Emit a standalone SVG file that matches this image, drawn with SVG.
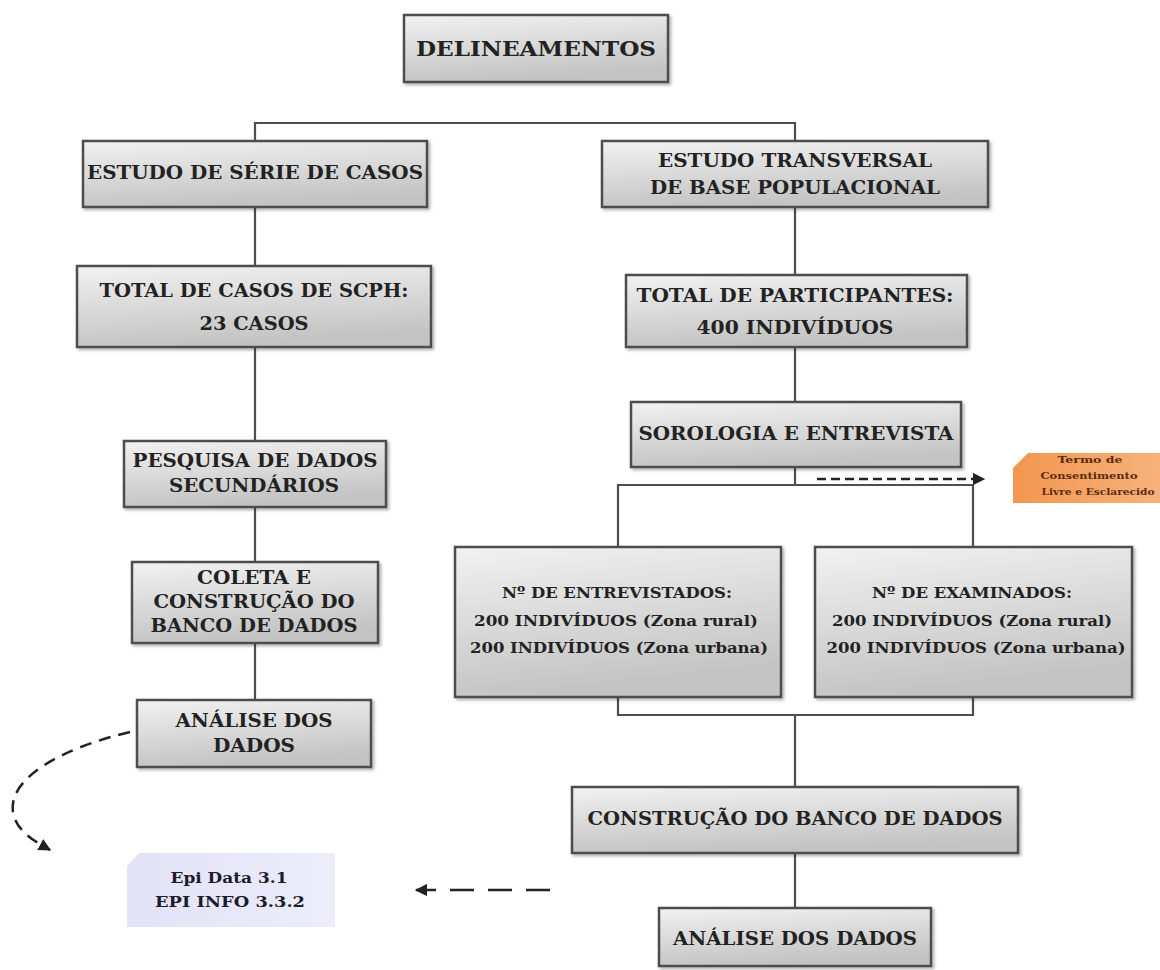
<svg xmlns="http://www.w3.org/2000/svg" width="1160" height="970" viewBox="0 0 1160 970">
  <defs>
    <linearGradient id="gbox" x1="0" y1="0" x2="0.25" y2="1">
      <stop offset="0" stop-color="#f2f2f2"/>
      <stop offset="1" stop-color="#c3c3c3"/>
    </linearGradient>
    <linearGradient id="gorange" x1="0" y1="0" x2="1" y2="0">
      <stop offset="0" stop-color="#f29650"/>
      <stop offset="1" stop-color="#f7b27a"/>
    </linearGradient>
    <linearGradient id="gepi" x1="0" y1="0" x2="1" y2="0">
      <stop offset="0" stop-color="#e3e3f8"/>
      <stop offset="1" stop-color="#ececfb"/>
    </linearGradient>
    <filter id="sh" x="-10%" y="-10%" width="130%" height="140%">
      <feDropShadow dx="2" dy="2" stdDeviation="1.5" flood-color="#000" flood-opacity="0.3"/>
    </filter>
    <marker id="ah" viewBox="0 0 10 10" refX="9" refY="5" markerWidth="5" markerHeight="5" orient="auto" markerUnits="strokeWidth">
      <path d="M0,0 L10,5 L0,10 Z" fill="#222"/>
    </marker>
    <style>
      .box { fill: url(#gbox); stroke: #4e4e4e; stroke-width: 2.5; filter: url(#sh); }
      .t { font-family: "DejaVu Serif", "Liberation Serif", serif; font-weight: bold; fill: #222; text-anchor: middle; font-size: 19px; }
      .tl { font-size: 21px; }
      .ts { font-size: 15px; }
      .to { font-size: 10px; fill: #5b2a12; }
      .te { font-size: 15px; fill: #1c1c2c; }
      .ln { fill: none; stroke: #4e4e4e; stroke-width: 2.2; }
      .dash { fill: none; stroke: #222; stroke-width: 2.5; }
    </style>
  </defs>
  <rect width="1160" height="970" fill="#ffffff"/>

  <g id="connectors">
    <path class="ln" d="M255,141 V123 H795 V141"/>
    <path class="ln" d="M255,207 V266"/>
    <path class="ln" d="M255,347 V441"/>
    <path class="ln" d="M255,507 V562"/>
    <path class="ln" d="M255,643 V700"/>
    <path class="ln" d="M795,207 V275"/>
    <path class="ln" d="M795,347 V402"/>
    <path class="ln" d="M795,467 V485"/>
    <path class="ln" d="M618,547 V485 H973 V547"/>
    <path class="ln" d="M618,697 V715 H973 V697"/>
    <path class="ln" d="M795,715 V787"/>
    <path class="ln" d="M795,853 V908"/>
    <path class="dash" d="M817,479 H984" stroke-dasharray="9,5" marker-end="url(#ah)"/>
    <path class="dash" d="M550,890 H416" stroke-width="3" stroke-dasharray="24,14" marker-end="url(#ah)"/>
    <path class="dash" d="M130,732 C 62,748 8,778 13,812 C 16,830 32,840 50,850" stroke-dasharray="12,8" marker-end="url(#ah)"/>
  </g>

  <g id="delineamentos">
    <rect class="box" x="404" y="15" width="264" height="67"/>
    <text class="t tl" x="536" y="56" textLength="240" lengthAdjust="spacingAndGlyphs">DELINEAMENTOS</text>
  </g>

  <g id="serie-casos">
    <rect class="box" x="83" y="141" width="344" height="66"/>
    <text class="t" x="255" y="179" textLength="336" lengthAdjust="spacingAndGlyphs">ESTUDO DE SÉRIE DE CASOS</text>
  </g>

  <g id="transversal">
    <rect class="box" x="602" y="141" width="386" height="66"/>
    <text class="t" x="795" y="167" textLength="274" lengthAdjust="spacingAndGlyphs">ESTUDO TRANSVERSAL</text>
    <text class="t" x="795" y="194" textLength="290" lengthAdjust="spacingAndGlyphs">DE BASE POPULACIONAL</text>
  </g>

  <g id="total-casos">
    <rect class="box" x="77" y="266" width="354" height="81"/>
    <text class="t" x="254" y="297" textLength="309" lengthAdjust="spacingAndGlyphs">TOTAL DE CASOS DE SCPH:</text>
    <text class="t" x="254" y="330" textLength="109" lengthAdjust="spacingAndGlyphs">23 CASOS</text>
  </g>

  <g id="total-participantes">
    <rect class="box" x="626" y="275" width="341" height="72"/>
    <text class="t" x="795" y="302" textLength="317" lengthAdjust="spacingAndGlyphs">TOTAL DE PARTICIPANTES:</text>
    <text class="t" x="795" y="334" textLength="197" lengthAdjust="spacingAndGlyphs">400 INDIVÍDUOS</text>
  </g>

  <g id="sorologia">
    <rect class="box" x="631" y="402" width="330" height="65"/>
    <text class="t" x="796" y="440" textLength="315" lengthAdjust="spacingAndGlyphs">SOROLOGIA E ENTREVISTA</text>
  </g>

  <g id="tcle">
    <path d="M1028,453 H1160 V503 H1013 V468 Z" fill="url(#gorange)"/>
    <text class="t to" x="1090" y="463" textLength="65" lengthAdjust="spacingAndGlyphs">Termo de</text>
    <text class="t to" x="1089" y="479" textLength="97" lengthAdjust="spacingAndGlyphs">Consentimento</text>
    <text class="t to" x="1098" y="495" textLength="113" lengthAdjust="spacingAndGlyphs">Livre e Esclarecido</text>
  </g>

  <g id="pesquisa">
    <rect class="box" x="124" y="441" width="262" height="66"/>
    <text class="t" x="255" y="467" textLength="245" lengthAdjust="spacingAndGlyphs">PESQUISA DE DADOS</text>
    <text class="t" x="254" y="492" textLength="170" lengthAdjust="spacingAndGlyphs">SECUNDÁRIOS</text>
  </g>

  <g id="coleta">
    <rect class="box" x="132" y="562" width="246" height="81"/>
    <text class="t" x="254" y="584" textLength="114" lengthAdjust="spacingAndGlyphs">COLETA E</text>
    <text class="t" x="254" y="608" textLength="201" lengthAdjust="spacingAndGlyphs">CONSTRUÇÃO DO</text>
    <text class="t" x="254" y="632" textLength="207" lengthAdjust="spacingAndGlyphs">BANCO DE DADOS</text>
  </g>

  <g id="analise-left">
    <rect class="box" x="137" y="700" width="234" height="67"/>
    <text class="t" x="254" y="727" textLength="157" lengthAdjust="spacingAndGlyphs">ANÁLISE DOS</text>
    <text class="t" x="254" y="752" textLength="82" lengthAdjust="spacingAndGlyphs">DADOS</text>
  </g>

  <g id="entrevistados">
    <rect class="box" x="455" y="547" width="326" height="150"/>
    <text class="t ts" x="617" y="598" textLength="230" lengthAdjust="spacingAndGlyphs">Nº DE ENTREVISTADOS:</text>
    <text class="t ts" x="616" y="626" textLength="284" lengthAdjust="spacingAndGlyphs">200 INDIVÍDUOS (Zona rural)</text>
    <text class="t ts" x="619" y="653" textLength="298" lengthAdjust="spacingAndGlyphs">200 INDIVÍDUOS (Zona urbana)</text>
  </g>

  <g id="examinados">
    <rect class="box" x="815" y="547" width="317" height="150"/>
    <text class="t ts" x="972" y="598" textLength="200" lengthAdjust="spacingAndGlyphs">Nº DE EXAMINADOS:</text>
    <text class="t ts" x="972" y="626" textLength="280" lengthAdjust="spacingAndGlyphs">200 INDIVÍDUOS (Zona rural)</text>
    <text class="t ts" x="976" y="653" textLength="299" lengthAdjust="spacingAndGlyphs">200 INDIVÍDUOS (Zona urbana)</text>
  </g>

  <g id="construcao">
    <rect class="box" x="572" y="787" width="446" height="66"/>
    <text class="t" x="795" y="825" textLength="415" lengthAdjust="spacingAndGlyphs">CONSTRUÇÃO DO BANCO DE DADOS</text>
  </g>

  <g id="analise-right">
    <rect class="box" x="659" y="908" width="272" height="58"/>
    <text class="t" x="795" y="945" textLength="244" lengthAdjust="spacingAndGlyphs">ANÁLISE DOS DADOS</text>
  </g>

  <g id="epi">
    <path d="M139,853 H335 V927 H127 V866 Z" fill="url(#gepi)"/>
    <text class="t te" x="229" y="883" textLength="117" lengthAdjust="spacingAndGlyphs">Epi Data 3.1</text>
    <text class="t te" x="230" y="907" textLength="150" lengthAdjust="spacingAndGlyphs">EPI INFO 3.3.2</text>
  </g>
</svg>
